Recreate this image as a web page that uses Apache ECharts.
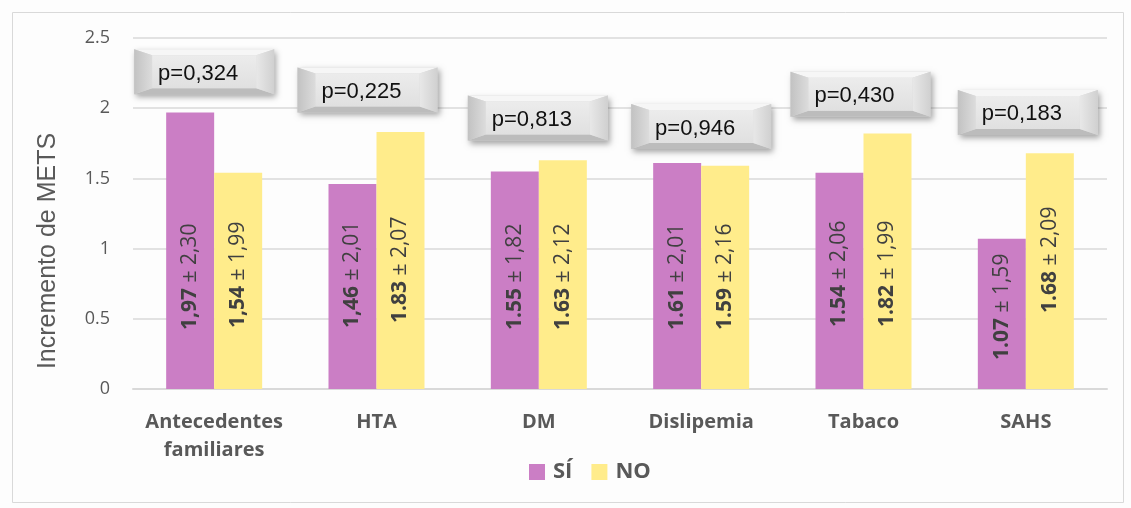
<!DOCTYPE html>
<html>
<head>
<meta charset="utf-8">
<script src="https://cdn.jsdelivr.net/npm/echarts@6/dist/echarts.min.js"></script>
<style>
  html, body { margin: 0; padding: 0; background: #fdfdfd; }
  #chart { width: 1131px; height: 508px; }
</style>
</head>
<body>
<div id="chart"></div>
<script>
// Categories (risk factors)
const categories = ['Antecedentes\nfamiliares', 'HTA', 'DM', 'Dislipemia', 'Tabaco', 'SAHS'];

// Mean METS increase as printed (decimal separator kept as written), and SD
const siMeanText = ['1,97', '1,46', '1.55', '1.61', '1.54', '1.07'];
const siSdText   = ['2,30', '2,01', '1,82', '2,01', '2,06', '1,59'];
const noMeanText = ['1,54', '1.83', '1.63', '1.59', '1.82', '1.68'];
const noSdText   = ['1,99', '2,07', '2,12', '2,16', '1,99', '2,09'];

// p-values for each comparison
const pValues = ['p=0,324', 'p=0,225', 'p=0,813', 'p=0,946', 'p=0,430', 'p=0,183'];

// Y-axis ticks
const yMin = 0, yMax = 2.5, yStep = 0.5;

const toNum = s => parseFloat(s.replace(',', '.'));
const siValues = siMeanText.map(toNum);
const noValues = noMeanText.map(toNum);

// Where each p-value box sits (axis value of its centre, horizontal nudge in px)
const pBoxLevel = [2.26, 2.13, 1.93, 1.87, 2.10, 1.97];
const pBoxNudge = [-10, -9, -1, 0, -3, 2];

// Distance of each rotated label from the bar base (px)
const siLift = [59, 61, 59, 59, 62, 29];
const noLift = [61, 66, 59, 59, 62, 76];

const SI_COLOR = '#CB7EC5';
const NO_COLOR = '#FFEC8B';
const TEXT_GREY = '#595959';

function barData(values, means, sds, lifts) {
  return values.map((v, i) => ({
    value: v,
    label: {
      distance: lifts[i],
      formatter: '{b|' + means[i] + '}{n| ± ' + sds[i] + '}'
    }
  }));
}

const labelStyle = {
  show: true,
  position: 'insideBottom',
  rotate: 90,
  align: 'left',
  verticalAlign: 'middle',
  rich: {
    b: { fontFamily: 'Open Sans', fontWeight: 'bold', fontSize: 21, color: '#404040' },
    n: { fontFamily: 'Open Sans', fontWeight: 'normal', fontSize: 21, color: '#404040' }
  }
};

function renderPBox(params, api) {
  const i = api.value(0);
  const c = api.coord([i, api.value(1)]);
  const w = 140, h = 45, bv = 18, tb = 6;
  const x0 = c[0] + pBoxNudge[i] - w / 2, y0 = c[1] - h / 2;
  const x1 = x0 + w, y1 = y0 + h;
  return {
    type: 'group',
    children: [
      { type: 'rect', shape: { x: x0, y: y0, width: w, height: h },
        style: { fill: '#d8d8d8', shadowBlur: 6, shadowOffsetX: 2, shadowOffsetY: 3, shadowColor: 'rgba(0,0,0,0.35)' } },
      { type: 'polygon', shape: { points: [[x0, y0], [x1, y0], [x1 - bv, y0 + tb], [x0 + bv, y0 + tb]] },
        style: { fill: '#f6f6f6' } },
      { type: 'polygon', shape: { points: [[x0, y1], [x1, y1], [x1 - bv, y1 - tb], [x0 + bv, y1 - tb]] },
        style: { fill: '#bcbcbc' } },
      { type: 'polygon', shape: { points: [[x0, y0], [x0 + bv, y0 + tb], [x0 + bv, y1 - tb], [x0, y1]] },
        style: { fill: new echarts.graphic.LinearGradient(0, 0, 1, 0, [
          { offset: 0, color: '#c2c2c2' }, { offset: 1, color: '#dcdcdc' }]) } },
      { type: 'polygon', shape: { points: [[x1, y0], [x1 - bv, y0 + tb], [x1 - bv, y1 - tb], [x1, y1]] },
        style: { fill: new echarts.graphic.LinearGradient(0, 0, 1, 0, [
          { offset: 0, color: '#e8e8e8' }, { offset: 1, color: '#d0d0d0' }]) } },
      { type: 'rect', shape: { x: x0 + bv, y: y0 + tb, width: w - 2 * bv, height: h - 2 * tb },
        style: { fill: new echarts.graphic.LinearGradient(0, 0, 0, 1, [
          { offset: 0, color: '#ececec' }, { offset: 1, color: '#e0e0e0' }]) } },
      { type: 'text', x: c[0] + pBoxNudge[i] - 6, y: c[1] + 2,
        style: { text: api.value(2), fill: '#111111', font: '22px "Liberation Sans", Arial, sans-serif',
                 align: 'center', verticalAlign: 'middle' } }
    ]
  };
}

const chart = echarts.init(document.getElementById('chart'), null, { renderer: 'canvas' });

chart.setOption({
  backgroundColor: '#fdfdfd',
  animation: false,
  graphic: [
    { type: 'rect', left: 10, top: 10, shape: { width: 1111, height: 490 },
      style: { fill: 'none', stroke: '#d9d9d9', lineWidth: 1 }, silent: true },
    { type: 'text', x: 48, y: 251, rotation: Math.PI / 2,
      style: { text: 'Incremento de METS', fill: TEXT_GREY, font: '25px "Liberation Sans", Arial, sans-serif',
               align: 'center', verticalAlign: 'middle' } }
  ],
  grid: { left: 133, right: 24, top: 38, bottom: 119, containLabel: false },
  legend: {
    data: ['SÍ', 'NO'],
    top: 456,
    left: 524,
    itemWidth: 16,
    itemHeight: 16,
    itemGap: 19,
    icon: 'rect',
    textStyle: { fontFamily: 'Open Sans', fontWeight: 'bold', fontSize: 22, color: TEXT_GREY, padding: [0, 0, 0, 3] }
  },
  xAxis: {
    type: 'category',
    data: categories,
    axisLine: { show: true, lineStyle: { color: '#d9d9d9', width: 2 } },
    axisTick: { show: false },
    axisLabel: { interval: 0, fontFamily: 'Open Sans', fontWeight: 'bold', fontSize: 20, color: TEXT_GREY,
                 margin: 19, lineHeight: 28 }
  },
  yAxis: {
    type: 'value',
    min: yMin, max: yMax, interval: yStep,
    axisLine: { show: false },
    axisTick: { show: false },
    splitLine: { lineStyle: { color: '#d9d9d9', width: 1.5 } },
    axisLabel: { fontFamily: 'Open Sans', fontSize: 18, color: TEXT_GREY, margin: 23 }
  },
  series: [
    { name: 'SÍ', type: 'bar', barWidth: 48, barGap: '0%',
      itemStyle: { color: SI_COLOR }, label: labelStyle,
      data: barData(siValues, siMeanText, siSdText, siLift) },
    { name: 'NO', type: 'bar', barWidth: 48, barGap: '0%',
      itemStyle: { color: NO_COLOR }, label: labelStyle,
      data: barData(noValues, noMeanText, noSdText, noLift) },
    { name: 'p', type: 'custom', renderItem: renderPBox, z: 10,
      encode: { x: 0, y: 1 },
      data: pValues.map((p, i) => [i, pBoxLevel[i], p]) }
  ]
});
</script>
</body>
</html>
